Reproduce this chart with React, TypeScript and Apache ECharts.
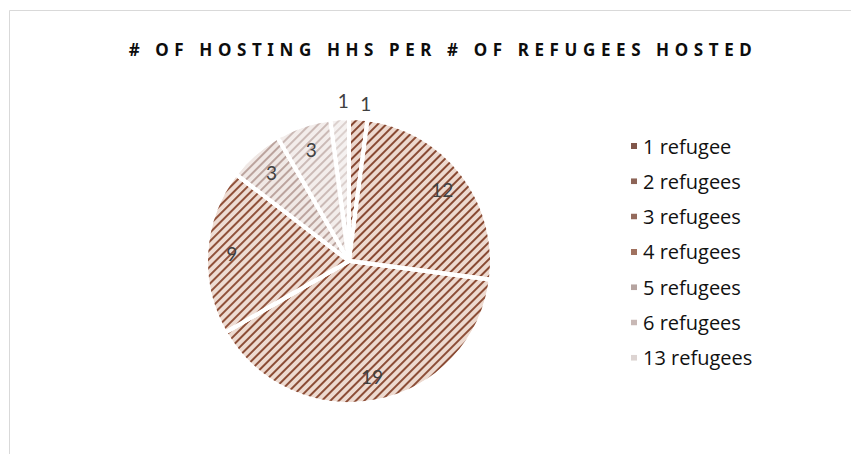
import React, { useEffect, useRef } from "react";
import * as echarts from "echarts";

const titleText = "# OF HOSTING HHS PER # OF REFUGEES HOSTED";
const categories = ["1 refugee", "2 refugees", "3 refugees", "4 refugees", "5 refugees", "6 refugees", "13 refugees"];
const values = [1, 12, 19, 9, 3, 3, 1];

const baseColors = ["#ebd6cc", "#edd9cf", "#eddad0", "#eedcd3", "#f0e8e5", "#f3edeb", "#f5f1f0"];
const stripeColors = ["#854630", "#894a33", "#8c4d36", "#90513a", "#bba39d", "#cbbab6", "#dbd0cd"];
const legendColors = ["#80564a", "#8d6457", "#946a5c", "#a0715f", "#b6a4a0", "#c8b8b5", "#ddd4d2"];

export default function App() {
  const ref = useRef<HTMLDivElement>(null);
  useEffect(() => {
    if (!ref.current) return;
    const chart = echarts.init(ref.current, null, { renderer: "svg" });
    const cx = 349;
    const cy = 261;
    const R = 143;
    const mainData = values.map((v, i) => ({
      name: categories[i],
      value: v,
      itemStyle: {
        color: baseColors[i],
        decal: {
          symbol: "rect",
          symbolSize: 1,
          dashArrayX: [1, 0],
          dashArrayY: [1.3, 3.4],
          rotation: -Math.PI / 4,
          color: stripeColors[i],
        },
      },
    }));
    const innerLabelData = values.map((v, i) => ({
      name: categories[i],
      value: v,
      label: { show: !(i === 0 || i === 6) },
    }));
    const outerLabelData = values.map((v, i) => ({
      name: categories[i],
      value: v,
      label: {
        show: i === 0 || i === 6,
        offset: i === 0 ? [6, 5] : [5, 2],
      },
    }));
    const labelStyle = {
      position: "inside",
      color: "#404040",
      fontSize: 19,
      fontFamily: "Lato",
      formatter: "{c}",
    };
    chart.setOption({
      animation: false,
      title: {
        text: titleText,
        left: 438,
        top: 36,
        textAlign: "center",
        textStyle: {
          fontFamily: "Noto Sans",
          fontWeight: "bold",
          fontSize: 17,
          color: "#0d0d0d",
        },
      },
      legend: {
        orient: "vertical",
        left: 624,
        top: 131,
        itemWidth: 8,
        itemHeight: 8,
        itemGap: 15.3,
        icon: "rect",
        data: categories.map((c, i) => ({
          name: c,
          itemStyle: {
            color: legendColors[i],
            decal: { symbol: "rect", color: "rgba(0,0,0,0)" },
          },
        })),
        textStyle: { fontFamily: "Open Sans", fontSize: 20, color: "#111111", lineHeight: 20 },
      },
      graphic: [
        {
          type: "rect",
          shape: { x: 9.5, y: 10.5, width: 900, height: 500 },
          style: { fill: "none", stroke: "#d9d9d9", lineWidth: 1 },
          silent: true,
        },
      ],
      series: [
        {
          type: "pie",
          center: [cx, cy],
          radius: [0, R],
          startAngle: 90,
          clockwise: true,
          data: mainData,
          label: { show: false },
          labelLine: { show: false },
          itemStyle: { borderColor: "#ffffff", borderWidth: 4 },
          emphasis: { disabled: true },
        },
        {
          type: "pie",
          center: [cx, cy],
          radius: [R * 0.6, R],
          startAngle: 90,
          clockwise: true,
          silent: true,
          data: innerLabelData,
          itemStyle: { color: "rgba(0,0,0,0)", borderWidth: 0 },
          label: labelStyle,
          labelLine: { show: false },
          avoidLabelOverlap: false,
        },
        {
          type: "pie",
          center: [cx, cy],
          radius: [150, 170],
          startAngle: 90,
          clockwise: true,
          silent: true,
          data: outerLabelData,
          itemStyle: { color: "rgba(0,0,0,0)", borderWidth: 0 },
          label: labelStyle,
          labelLine: { show: false },
          avoidLabelOverlap: false,
        },
      ],
    });
    return () => chart.dispose();
  }, []);
  return (
    <div style={{ position: "absolute", left: 0, top: 0, width: 851, height: 454, background: "#ffffff" }}>
      <style>{`text[fill="#0d0d0d"], text[style*="Noto Sans"] { letter-spacing: 5.6px; }`}</style>
      <div ref={ref} style={{ width: 851, height: 454 }} />
    </div>
  );
}
